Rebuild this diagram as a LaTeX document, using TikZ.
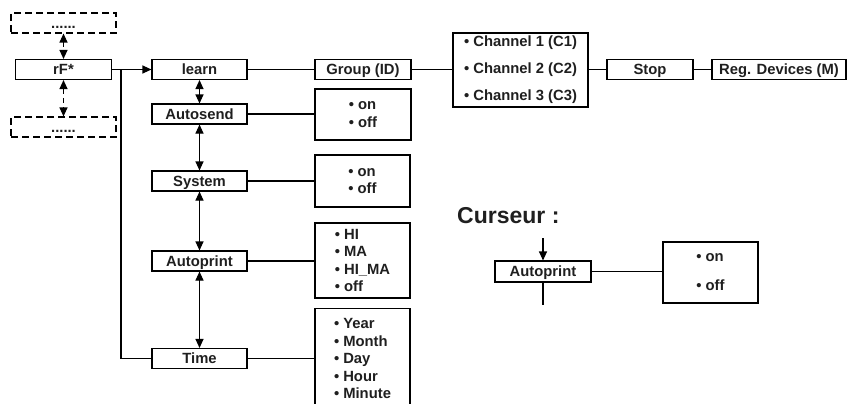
\documentclass[tikz,border=0pt]{standalone}
\usepackage{fontspec}
\setmainfont{Liberation Sans}
\usetikzlibrary{arrows.meta}
\begin{document}
\begin{tikzpicture}[x=1pt,y=-1pt,
  every node/.style={font=\fontsize{14.8}{17.5}\selectfont\bfseries, text=black!88},
  box/.style={draw=black, line width=1.1pt, inner sep=0pt, minimum height=20pt, text height=10.5pt, text depth=0pt},
  dbox/.style={box, dash pattern=on 7pt off 4pt},
  opt/.style={draw=black, line width=1.1pt, inner sep=0pt, align=left},
  conn/.style={line width=1.1pt},
  arr/.style={conn, -{Triangle[length=9pt,width=8pt]}},
  darr/.style={conn, {Triangle[length=9pt,width=8pt]}-{Triangle[length=9pt,width=8pt]}},
]
\useasboundingbox (0,0) rectangle (851,404);

% left column
\node[dbox, minimum width=105pt] (dtop) at (63.5,23) {......};
\node[box, minimum width=96pt] (rf) at (63.5,69.5) {rF*};
\node[dbox, minimum width=105pt] (dbot) at (63.5,127) {......};

% menu column
\node[box, minimum width=95pt] (learn) at (199.5,69.5) {learn};
\node[box, minimum width=95pt] (autosend) at (199.5,114) {Autosend};
\node[box, minimum width=95pt] (system) at (199.5,181) {System};
\node[box, minimum width=95pt] (autoprint) at (199.5,261) {Autoprint};
\node[box, minimum width=95pt] (time) at (199.5,358.5) {Time};

% options
\node[box, minimum width=96pt] (group) at (363,69.5) {Group (ID)};
\node[opt, minimum width=135pt, minimum height=74pt, font=\fontsize{14.8}{27}\selectfont\bfseries] (chan) at (520.5,70) {• Channel 1 (C1)\\• Channel 2 (C2)\\• Channel 3 (C3)};
\node[box, minimum width=86pt] (stop) at (650,69.5) {Stop};
\node[box, minimum width=134pt] (reg) at (779,69.5) {Reg. Devices (M)};

\node[opt, minimum width=96pt, minimum height=51pt] (asopt) at (363,114.5) {• on\\• off};
\node[opt, minimum width=95pt, minimum height=52pt] (sysopt) at (362.5,181) {• on\\• off};
\node[opt, minimum width=95pt, minimum height=75pt] (apopt) at (362.5,260.5) {• HI\\• MA\\• HI\_MA\\• off};
\node[opt, minimum width=95pt, minimum height=100pt, anchor=north] (timeopt) at (362.5,308) {• Year\\• Month\\• Day\\• Hour\\• Minute};

% Curseur
\node[anchor=base west, inner sep=0pt, font=\fontsize{23}{27}\selectfont\bfseries] (curs) at (457,223) {Curseur :};
\node[box, minimum width=96pt, minimum height=21pt] (cap) at (543,271.5) {Autoprint};
\node[opt, minimum width=95pt, minimum height=61pt, font=\fontsize{14.8}{29}\selectfont\bfseries] (capopt) at (710.5,272.5) {• on\\• off};
\coordinate (ctop) at (543,238);
\coordinate (cbot) at (543,305);
\coordinate (jn) at (121,69.5);

% connectors
\draw[darr, dash pattern=on 5pt off 4pt] (dtop) -- (rf);
\draw[darr, dash pattern=on 5pt off 4pt] (rf) -- (dbot);
\draw[arr] (rf) -- (learn);
\draw[conn] (jn) |- (time.west);
\draw[darr] (learn) -- (autosend);
\draw[darr] (autosend) -- (system);
\draw[darr] (system) -- (autoprint);
\draw[darr] (autoprint) -- (time);

\draw[conn] (learn) -- (group);
\draw[conn] (group.east) -- (group.east -| chan.west);
\draw[conn] (stop.west -| chan.east) -- (stop.west);
\draw[conn] (stop) -- (reg);
\draw[conn] (autosend.east) -- (autosend.east -| asopt.west);
\draw[conn] (system.east) -- (system.east -| sysopt.west);
\draw[conn] (autoprint.east) -- (autoprint.east -| apopt.west);
\draw[conn] (time.east) -- (time.east -| timeopt.west);

\draw[arr] (ctop) -- (cap.north);
\draw[conn] (cap.south) -- (cbot);
\draw[conn] (cap.east) -- (cap.east -| capopt.west);
\end{tikzpicture}
\end{document}
